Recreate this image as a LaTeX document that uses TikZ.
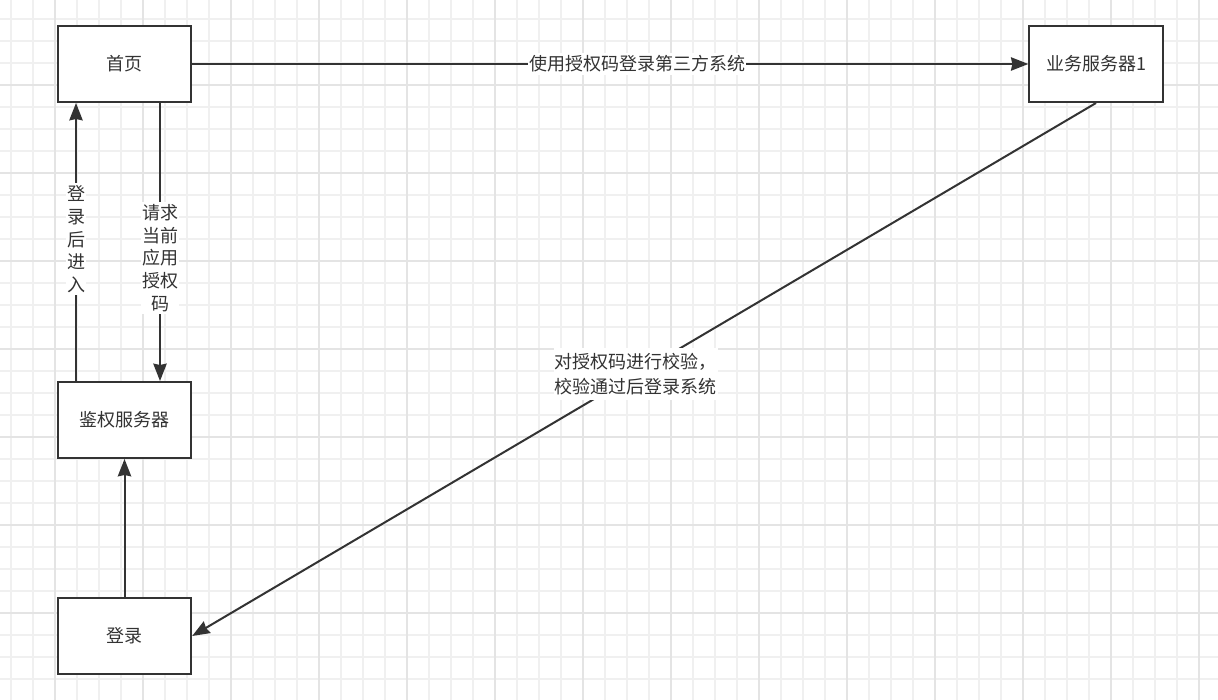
\documentclass[tikz,border=0pt]{standalone}
\usepackage{fontspec}
\setmainfont{Noto Sans CJK SC}
\usetikzlibrary{arrows.meta}
\definecolor{ink}{HTML}{333333}
\definecolor{gminor}{HTML}{F0F0F0}
\definecolor{gmajor}{HTML}{E4E4E4}
\begin{document}
\begin{tikzpicture}[x=0.75pt,y=-0.75pt,
  box/.style={draw=ink, line width=1.5pt, fill=white, minimum width=100pt, minimum height=57pt, inner sep=0pt, font=\fontsize{13.5}{17}\selectfont, text=ink},
  arr/.style={draw=ink, line width=1.5pt, -{Stealth[length=13pt,width=10pt,inset=1pt]}},
  lbl/.style={fill=white, text=ink, inner xsep=1pt, inner ysep=2pt, font=\fontsize{13.5}{17}\selectfont, align=center},
  gridminor/.style={draw=gminor, line width=0.8pt},
  gridmajor/.style={draw=gmajor, line width=1.3pt}
]
\useasboundingbox[fill=white] (0,0) rectangle (1218,700);
% grid
\foreach \k in {0,...,54} \draw[gridminor] ({11+22*\k},0) -- ({11+22*\k},700);
\foreach \k in {0,...,30} \draw[gridminor] (0,{19+22*\k}) -- (1218,{19+22*\k});
\foreach \k in {0,...,13} \draw[gridmajor] ({55+88*\k},0) -- ({55+88*\k},700);
\foreach \k in {0,...,6} \draw[gridmajor] (0,{85+88*\k}) -- (1218,{85+88*\k});

% boxes
\node[box] (home) at (124.5,64) {首页};
\node[box] (biz) at (1096,64) {业务服务器1};
\node[box] (auth) at (124.5,420) {鉴权服务器};
\node[box] (login) at (124.5,636) {登录};

\coordinate (c1) at (76,0);
\coordinate (c2) at (160,0);

% connectors
\draw[arr] (home.east) -- (biz.west) node[lbl,pos=0.532] {使用授权码登录第三方系统};
\draw[arr] (auth.north -| c1) -- (home.south -| c1) node[lbl,pos=0.51] {登\\录\\后\\进\\入};
\draw[arr] (home.south -| c2) -- (auth.north -| c2) node[lbl,pos=0.557] {请求\\当前\\应用\\授权\\码};
\draw[arr] (login.north) -- (auth.south);
\draw[arr] (biz.south) -- (login.east) node[lbl,pos=0.509,align=left,inner ysep=4pt,font=\fontsize{13.5}{18.5}\selectfont] {对授权码进行校验，\\校验通过后登录系统};
\end{tikzpicture}
\end{document}
